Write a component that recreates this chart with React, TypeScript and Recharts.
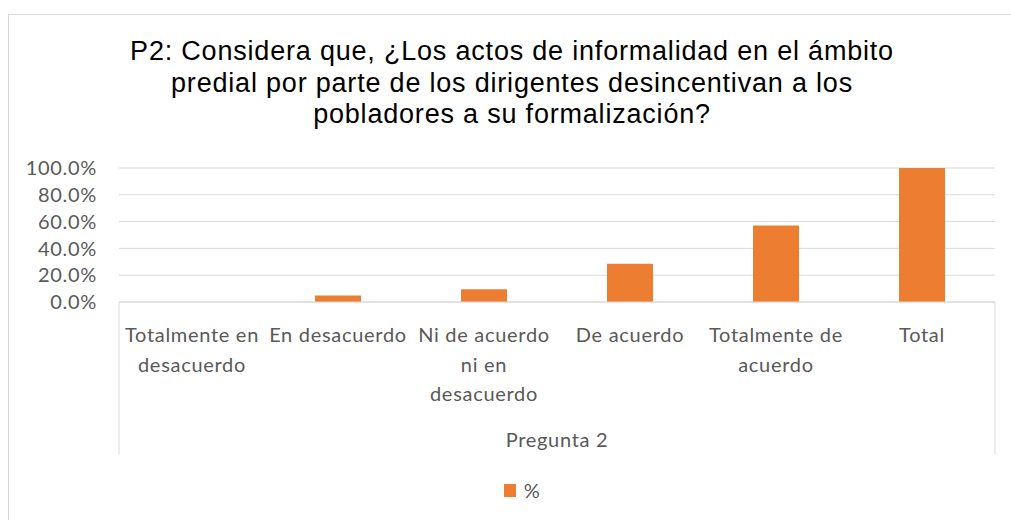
import React from 'react';
import { BarChart, Bar, XAxis, YAxis, CartesianGrid, Legend, Label } from 'recharts';

const titleLines = [
  'P2: Considera que, ¿Los actos de informalidad en el ámbito',
  'predial por parte de los dirigentes desincentivan a los',
  'pobladores a su formalización?',
];
const categories = [
  'Totalmente en desacuerdo',
  'En desacuerdo',
  'Ni de acuerdo ni en desacuerdo',
  'De acuerdo',
  'Totalmente de acuerdo',
  'Total',
];
const categoryLines = [
  ['Totalmente en', 'desacuerdo'],
  ['En desacuerdo'],
  ['Ni de acuerdo', 'ni en', 'desacuerdo'],
  ['De acuerdo'],
  ['Totalmente de', 'acuerdo'],
  ['Total'],
];
const percentValues = [0, 0.048, 0.095, 0.286, 0.571, 1.0];
const yTicks = [0, 0.2, 0.4, 0.6, 0.8, 1.0];
const seriesName = '%';
const axisTitle = 'Pregunta 2';

const data = categories.map((c, i) => ({ category: c, value: percentValues[i] }));

const GRAY = '#595959';
const GRID = '#D9D9D9';
const ORANGE = '#ED7D31';
const LABEL_FONT = 'Lato, "Noto Sans", sans-serif';
const LABEL_SIZE = 20;
const LABEL_SPACING = 0.7;

const CategoryTick = (props: any) => {
  const { x, y, payload, index, visibleTicksCount } = props;
  const idx = categories.indexOf(payload.value);
  const lines = idx >= 0 ? categoryLines[idx] : [String(payload.value)];
  const half = payload.offset ?? 73;
  const count = visibleTicksCount ?? categories.length;
  return (
    <g>
      {index === 0 && <line x1={x - half} x2={x - half} y1={y} y2={y + 152} stroke={GRID} strokeWidth={1} />}
      {index === count - 1 && <line x1={x + half} x2={x + half} y1={y} y2={y + 152} stroke={GRID} strokeWidth={1} />}
      {lines.map((ln: string, i: number) => (
        <text
          key={i}
          x={x}
          y={y + 40 + i * 29.5}
          textAnchor="middle"
          fill={GRAY}
          fontFamily={LABEL_FONT}
          fontSize={LABEL_SIZE}
          letterSpacing={LABEL_SPACING}
        >
          {ln}
        </text>
      ))}
    </g>
  );
};

const LegendContent = () => (
  <div style={{ height: 20, display: 'flex', justifyContent: 'center', alignItems: 'center', paddingLeft: 49 }}>
    <span style={{ display: 'inline-block', width: 12, height: 13, background: ORANGE, marginRight: 8 }} />
    <span style={{ fontFamily: LABEL_FONT, fontSize: LABEL_SIZE, letterSpacing: LABEL_SPACING, color: GRAY, lineHeight: '20px' }}>{seriesName}</span>
  </div>
);

export default function App() {
  return (
    <div style={{ position: 'absolute', left: 0, top: 0, width: 1011, height: 520, background: '#fff', overflow: 'hidden' }}>
      <div
        style={{
          position: 'absolute',
          left: 8,
          top: 14,
          width: 1011,
          height: 520,
          borderTop: `1px solid ${GRID}`,
          borderLeft: `1px solid ${GRID}`,
          boxSizing: 'border-box',
        }}
      />
      <div
        style={{
          position: 'absolute',
          left: 12,
          top: 36,
          width: 1000,
          textAlign: 'center',
          fontFamily: '"Liberation Sans", Arial, sans-serif',
          fontSize: 27,
          letterSpacing: 0.8,
          lineHeight: '31.5px',
          color: '#000',
          whiteSpace: 'nowrap',
        }}
      >
        {titleLines.map((t, i) => (
          <div key={i}>{t}</div>
        ))}
      </div>
      <div style={{ position: 'absolute', left: 0, top: 0 }}>
        <BarChart width={1011} height={520} data={data} margin={{ top: 168, right: 16, bottom: 20, left: 0 }}>
          <CartesianGrid vertical={false} stroke={GRID} strokeWidth={1} />
          <XAxis
            dataKey="category"
            height={178}
            axisLine={{ stroke: GRID, strokeWidth: 1 }}
            tickLine={false}
            tickSize={0}
            tickMargin={0}
            interval={0}
            tick={<CategoryTick />}
          >
            <Label
              value={axisTitle}
              position="insideBottom"
              offset={33}
              fill={GRAY}
              fontSize={LABEL_SIZE}
              fontFamily={LABEL_FONT}
              letterSpacing={LABEL_SPACING}
            />
          </XAxis>
          <YAxis
            width={119}
            domain={[0, 1]}
            ticks={yTicks}
            interval={0}
            axisLine={false}
            tickLine={false}
            tickSize={0}
            tickMargin={22}
            tickFormatter={(v: number) => `${(v * 100).toFixed(1)}%`}
            tick={{ fill: GRAY, fontSize: LABEL_SIZE, fontFamily: LABEL_FONT, letterSpacing: LABEL_SPACING }}
          />
          <Legend verticalAlign="bottom" content={<LegendContent />} />
          <Bar dataKey="value" name={seriesName} fill={ORANGE} barSize={46} isAnimationActive={false} />
        </BarChart>
      </div>
    </div>
  );
}
